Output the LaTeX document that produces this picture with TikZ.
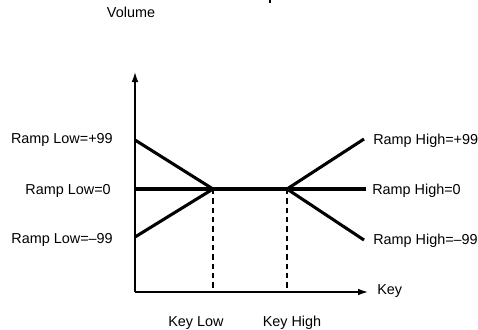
\documentclass[tikz,border=0pt]{standalone}
\usepackage{fontspec}
\setmainfont{Liberation Sans}
\usetikzlibrary{arrows.meta}
\begin{document}
\begin{tikzpicture}[x=0.75pt,y=-0.75pt,
  lbl/.style={inner sep=0pt,font=\fontsize{10.8pt}{12pt}\selectfont},
  axis/.style={line width=1pt,-{Latex[length=7.5pt,width=5pt]}},
  ramp/.style={line width=2.3pt,line cap=butt},
  guide/.style={line width=0.8pt,dash pattern=on 4pt off 3pt}]
\useasboundingbox (0,0) rectangle (478,329);
% mark of clipped glyph at top
\fill (268.7,0) rectangle (270.7,3);
% coordinates
\coordinate (O) at (135,292);
\coordinate (Ytip) at (135,72);
\coordinate (Xtip) at (368,292);
\coordinate (KL) at (213,189);
\coordinate (KH) at (287,189);
\coordinate (KLb) at (213,292);
\coordinate (KHb) at (287,292);
\coordinate (Lp) at (135,140);
\coordinate (L0) at (135,189);
\coordinate (Lm) at (135,237);
\coordinate (Hp) at (364,139);
\coordinate (H0) at (366,189);
\coordinate (Hm) at (364,240);
% guides
\draw[guide] (KL) -- (KLb);
\draw[guide] (KH) -- (KHb);
% axes
\draw[axis] (O) -- (Ytip);
\draw[axis] (O) -- (Xtip);
% ramps
\draw[ramp] (Lp) -- (KL);
\draw[ramp] (Lm) -- (KL);
\draw[ramp] (L0) -- (H0);
\draw[ramp] (KH) -- (Hp);
\draw[ramp] (KH) -- (Hm);
% labels
\node[lbl,anchor=base] (vol) at (131,17) {Volume};
\node[lbl,anchor=base east] (tLp) at (113,143) {Ramp Low=+99};
\node[lbl,anchor=base east] (tL0) at (111,194) {Ramp Low=0};
\node[lbl,anchor=base east] (tLm) at (113,243) {Ramp Low=–99};
\node[lbl,anchor=base west] (tHp) at (373,144) {Ramp High=+99};
\node[lbl,anchor=base west] (tH0) at (372,194) {Ramp High=0};
\node[lbl,anchor=base west] (tHm) at (373,244) {Ramp High=–99};
\node[lbl,anchor=base west] (key) at (377,294) {Key};
\node[lbl,anchor=base] (klo) at (196,326) {Key Low};
\node[lbl,anchor=base] (khi) at (292,326) {Key High};
\end{tikzpicture}
\end{document}
